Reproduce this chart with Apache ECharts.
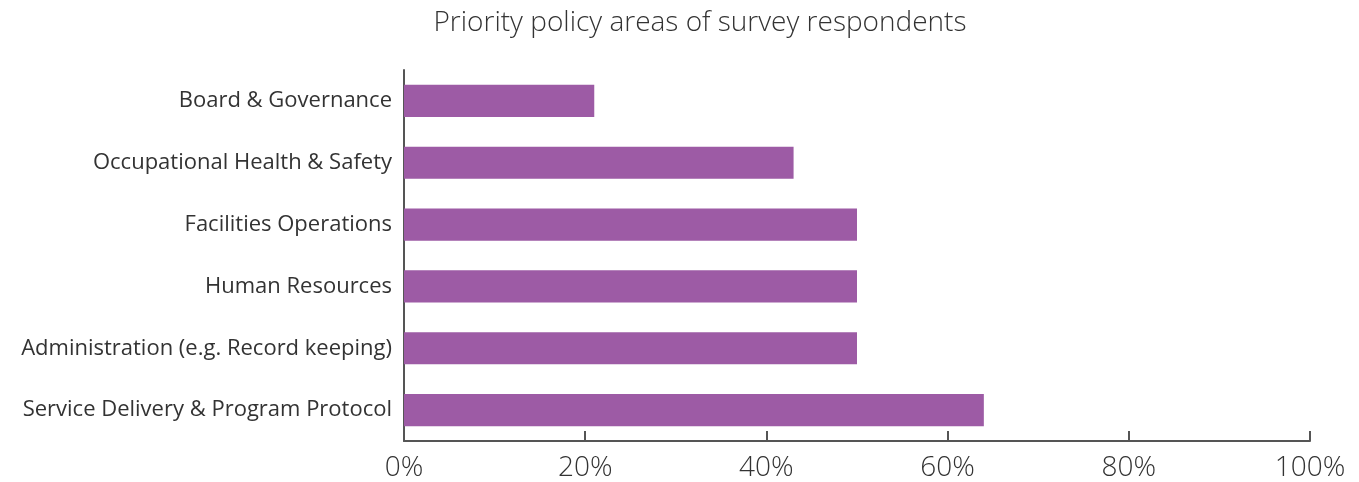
<!DOCTYPE html>
<html>
<head>
<meta charset="utf-8">
<script src="https://cdn.jsdelivr.net/npm/echarts@6/dist/echarts.min.js"></script>
<style>html,body{margin:0;padding:0;background:#fff}#c{width:1359px;height:482px}</style>
</head>
<body>
<div id="c"></div>
<script>
var categories = ["Board & Governance","Occupational Health & Safety","Facilities Operations","Human Resources","Administration (e.g. Record keeping)","Service Delivery & Program Protocol"];
var values = [21, 43, 50, 50, 50, 64];
var tickMin = 0, tickMax = 100, tickStep = 20;

var chart = echarts.init(document.getElementById('c'));
chart.setOption({
  animation: false,
  title: {
    text: 'Priority policy areas of survey respondents',
    left: 695, top: 4, textAlign: 'center',
    textStyle: { fontFamily: 'Open Sans', fontWeight: 300, fontSize: 28, color: '#333' }
  },
  grid: { left: 404, right: 49, top: 70, bottom: 41 },
  xAxis: {
    type: 'value', min: tickMin, max: tickMax, interval: tickStep,
    axisLine: { show: true, lineStyle: { color: '#555', width: 2 } },
    axisTick: { show: true, inside: true, length: 10, lineStyle: { color: '#555', width: 2 } },
    splitLine: { show: false },
    axisLabel: { formatter: '{value}%', fontFamily: 'Open Sans', fontWeight: 300, fontSize: 28, color: '#333', margin: 13 }
  },
  yAxis: {
    type: 'category', data: categories, inverse: true,
    axisLine: { show: true, lineStyle: { color: '#555', width: 2 } },
    axisTick: { show: false },
    axisLabel: { fontFamily: 'Open Sans', fontWeight: 400, fontSize: 22, color: '#333', margin: 12 }
  },
  series: [{
    type: 'bar', data: values, barCategoryGap: '48%',
    itemStyle: { color: '#9d5ba5' }
  }]
});
</script>
</body>
</html>
